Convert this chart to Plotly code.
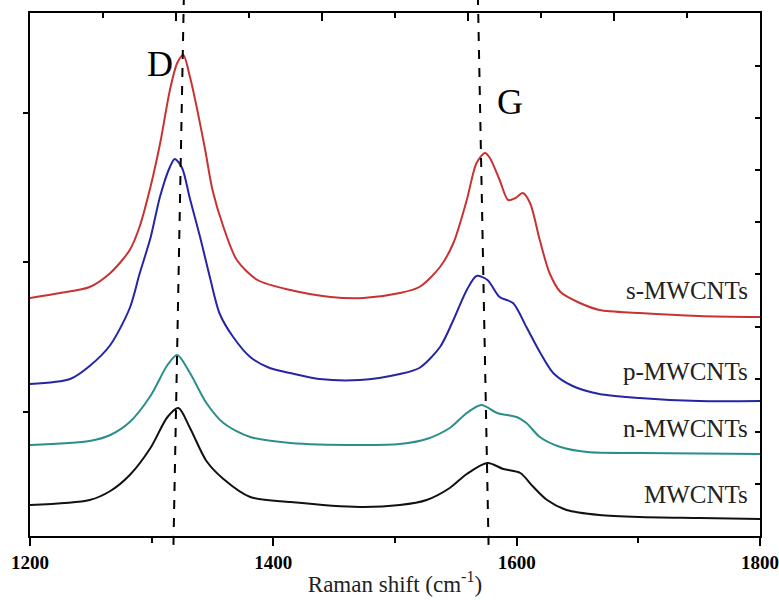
import plotly.graph_objects as go

# Raman shift (cm^-1) and intensity (a.u., offset stacked)
mw_x = [1200, 1249, 1266, 1282, 1299, 1313, 1322, 1331.5, 1345, 1359, 1381, 1414, 1471,
        1504, 1526, 1545, 1559, 1576, 1589, 1603, 1613, 1625, 1641, 1668, 1701, 1751, 1800]
mw_y = [31, 36, 45, 61, 88, 119, 128, 108, 75, 57, 39, 34, 29,
        31, 36, 48, 62, 73, 67, 63, 50, 36, 26, 21, 19, 18, 17]

n_x = [1200, 1249, 1266, 1282, 1299, 1313, 1321, 1331.5, 1345, 1359, 1381, 1414, 1471,
       1504, 1526, 1545, 1559, 1571, 1584, 1600, 1608, 1619, 1636, 1658, 1701, 1800]
n_y = [91, 95, 101, 114, 140, 171, 181, 163, 133, 113, 99, 93, 91,
       92, 97, 108, 123, 131, 123, 119, 113, 99, 89, 84, 83, 82]

p_x = [1200, 1233, 1249, 1266, 1282, 1290, 1299, 1307, 1315, 1319, 1325, 1331.5, 1340, 1348, 1356,
       1367, 1381, 1397, 1414, 1438, 1471, 1504, 1520, 1537, 1548, 1559, 1567, 1576, 1586, 1597,
       1608, 1619, 1630, 1646, 1668, 1701, 1750, 1800]
p_y = [152, 157, 170, 191, 228, 262, 298, 340, 369, 377, 368, 337, 298, 258, 222,
       199, 179, 168, 163, 157, 156, 162, 168, 189, 216, 246, 260, 256, 239, 233,
       209, 184, 163, 150, 142, 138, 135, 135]

s_x = [1200, 1225, 1249, 1266, 1282, 1290, 1299, 1307, 1315, 1321, 1326, 1331.5, 1337, 1344, 1350,
       1359, 1370, 1387, 1414, 1447, 1474, 1504, 1520, 1537, 1548, 1559, 1567, 1574, 1578, 1586,
       1593, 1599, 1605, 1611, 1619, 1627, 1636, 1652, 1668, 1701, 1750, 1800]
s_y = [238, 243, 249, 263, 286, 309, 349, 393, 446, 473, 481, 459, 429, 386, 346,
       309, 276, 256, 246, 239, 238, 243, 249, 269, 293, 336, 373, 383, 378, 356,
       336, 338, 343, 333, 296, 263, 244, 233, 226, 223, 220, 219]

series_names = ["MWCNTs", "n-MWCNTs", "p-MWCNTs", "s-MWCNTs"]
label_y = [42, 108, 165, 246]
x_ticks = [1200, 1400, 1600, 1800]
D_line = (1317.9, 1326.4)   # bottom, top
G_line = (1576.9, 1568.2)
peak_labels = [("D", 1306.8, 472), ("G", 1594.5, 434)]

colors = ["#111111", "#2A8E8A", "#2525A5", "#C83232"]
xs = [mw_x, n_x, p_x, s_x]
ys = [mw_y, n_y, p_y, s_y]

SERIF = "Liberation Serif"
fig = go.Figure()
for name, x, y, c in zip(series_names, xs, ys, colors):
    fig.add_trace(go.Scatter(x=x, y=y, mode="lines", name=name,
                             line=dict(color=c, width=2, shape="spline", smoothing=0.8),
                             showlegend=False, hoverinfo="skip"))

# invisible trace for mirrored axes
fig.add_trace(go.Scatter(x=[1200], y=[0], xaxis="x2", yaxis="y2", mode="markers",
                         marker=dict(opacity=0), showlegend=False, hoverinfo="skip"))

for (b, t) in [D_line, G_line]:
    fig.add_shape(type="line", xref="x", yref="paper", x0=b, x1=t, y0=-0.017, y1=1.025,
                  line=dict(color="black", width=2, dash="dash"))

for txt, x, y in peak_labels:
    fig.add_annotation(x=x, y=y, xref="x", yref="y", text=txt, showarrow=False,
                       font=dict(family=SERIF, size=36, color="black"))

for name, y in zip(series_names, label_y):
    fig.add_annotation(x=0.986, y=y, xref="paper", yref="y", text=name, showarrow=False,
                       xanchor="right", font=dict(family=SERIF, size=25, color="#222222"))

fig.update_layout(
    width=779, height=600,
    margin=dict(l=30, r=19, t=13, b=64),
    plot_bgcolor="white", paper_bgcolor="white",
    xaxis=dict(range=[1200, 1800], tickvals=x_ticks, ticks="outside", ticklen=8, tickwidth=1.5,
               tickcolor="black", showline=True, linewidth=1.5, linecolor="black", showgrid=False,
               zeroline=False, automargin=False, ticklabeloverflow="allow",
               minor=dict(dtick=100, tick0=1200, ticks="outside", ticklen=5, tickwidth=1.5,
                          tickcolor="black", showgrid=False),
               tickfont=dict(family=SERIF, size=19, color="black", weight="bold"),
               title=dict(text="Raman shift (cm<sup>-1</sup>)", standoff=4,
                          font=dict(family=SERIF, size=23, color="#222222"))),
    xaxis2=dict(range=[1200, 1800], overlaying="x", side="top", tick0=1200, dtick=120,
                ticks="inside", ticklen=8, tickwidth=1.5, tickcolor="black", showticklabels=False,
                showline=True, linewidth=1.5, linecolor="black", showgrid=False, zeroline=False,
                automargin=False,
                minor=dict(dtick=60, tick0=1200, ticks="inside", ticklen=5, tickwidth=1.5,
                           tickcolor="black", showgrid=False)),
    yaxis=dict(range=[0, 523], tickvals=[124, 274, 423], ticks="outside", ticklen=5, tickwidth=1.5,
               tickcolor="black", showticklabels=False, showline=True, linewidth=1.5,
               linecolor="black", showgrid=False, zeroline=False, automargin=False),
    yaxis2=dict(range=[0, 523], overlaying="y", side="right",
                tickvals=[52, 104, 157, 209, 262, 314, 366, 418, 470], ticks="inside", ticklen=5,
                tickwidth=1.5, tickcolor="black", showticklabels=False, showline=True,
                linewidth=1.5, linecolor="black", showgrid=False, zeroline=False,
                automargin=False),
)

fig.write_html("out.html")
